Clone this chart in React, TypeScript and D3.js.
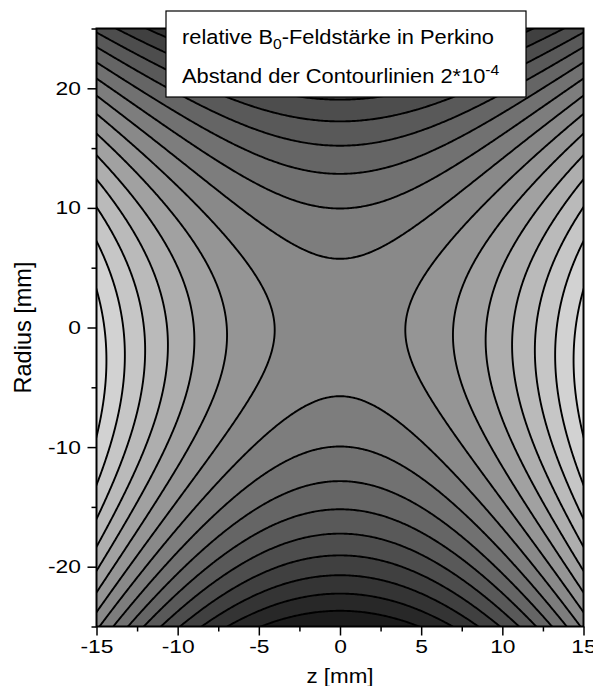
import React, { useEffect, useRef } from 'react';
import * as d3 from 'd3';

// Feld-Entwicklung (Einheiten 1e-4, z und r in mm), aus dem Bild abgeschätzt
const fieldTerms = [
  { pz: 2, pr: 0, c: 0.0617 },
  { pz: 0, pr: 2, c: -0.0303 },
  { pz: 2, pr: 1, c: -0.0008 },
];

// Konturlinien im Abstand 2*10^-4
const contourLevels = [-17, -15, -13, -11, -9, -7, -5, -3, -1, 1, 3, 5, 7, 9, 11, 13];

const zDomain = [-15, 15];
const rDomain = [-25, 25];
const zTicks = [-15, -10, -5, 0, 5, 10, 15];
const zMinorTicks = [-12.5, -7.5, -2.5, 2.5, 7.5, 12.5];
const rTicks = [-20, -10, 0, 10, 20];
const rMinorTicks = [-25, -15, -5, 5, 15, 25];

const FONT = '"Liberation Sans", Arial, Helvetica, sans-serif';

const ContourChart: React.FC = () => {
  const svgRef = useRef<SVGSVGElement>(null);
  const width = 601;
  const height = 694;
  const left = 96.5;
  const right = 583.5;
  const top = 28.5;
  const bottom = 626.5;

  useEffect(() => {
    if (!svgRef.current) return;
    const svg = d3.select(svgRef.current);
    svg.selectAll('*').remove();

    const x = d3.scaleLinear().domain(zDomain).range([left, right]);
    const y = d3.scaleLinear().domain(rDomain).range([bottom, top]);

    // Raster etwas größer als der Plotbereich
    const step = 0.1;
    const z0 = zDomain[0] - 1;
    const r0 = rDomain[1] + 1;
    const nx = Math.round((zDomain[1] - zDomain[0] + 2) / step) + 1;
    const ny = Math.round((rDomain[1] - rDomain[0] + 2) / step) + 1;
    const field = (z: number, r: number) =>
      d3.sum(fieldTerms, t => t.c * Math.pow(z, t.pz) * Math.pow(r, t.pr));
    const values = new Array(nx * ny);
    for (let j = 0; j < ny; j++) {
      const r = r0 - j * step;
      for (let i = 0; i < nx; i++) {
        values[j * nx + i] = field(z0 + i * step, r);
      }
    }

    const proj = d3.geoTransform({
      point(gx: number, gy: number) {
        const z = z0 + (gx - 0.5) * step;
        const r = r0 - (gy - 0.5) * step;
        this.stream.point(x(z), y(r));
      },
    });
    const path = d3.geoPath(proj);
    const gen = d3.contours().size([nx, ny]);

    const gray = d3.scaleLinear()
      .domain([0, contourLevels.length])
      .range([28, 222]);
    const bandColor = (k: number) => {
      const v = Math.round(gray(k));
      return d3.rgb(v, v, v).toString();
    };

    svg.append('defs').append('clipPath').attr('id', 'plot-clip')
      .append('rect')
      .attr('x', left).attr('y', top)
      .attr('width', right - left).attr('height', bottom - top);

    const plot = svg.append('g').attr('clip-path', 'url(#plot-clip)');

    plot.append('rect')
      .attr('x', left).attr('y', top)
      .attr('width', right - left).attr('height', bottom - top)
      .attr('fill', bandColor(0));

    const shapes = contourLevels.map(level => gen.contour(values, level));

    plot.selectAll('path.band')
      .data(shapes)
      .enter()
      .append('path')
      .attr('class', 'band')
      .attr('d', d => path(d as any))
      .attr('fill', (_d, k) => bandColor(k + 1))
      .attr('stroke', 'none');

    plot.selectAll('path.line')
      .data(shapes)
      .enter()
      .append('path')
      .attr('class', 'line')
      .attr('d', d => path(d as any))
      .attr('fill', 'none')
      .attr('stroke', '#000')
      .attr('stroke-width', 1.9);

    // Rahmen
    svg.append('rect')
      .attr('x', left).attr('y', top)
      .attr('width', right - left).attr('height', bottom - top)
      .attr('fill', 'none')
      .attr('stroke', '#000')
      .attr('stroke-width', 2);

    // x-Achse
    const xAxis = svg.append('g').attr('transform', `translate(0,${bottom})`);
    xAxis.call(d3.axisBottom(x).tickValues(zTicks).tickSize(9).tickSizeOuter(0).tickPadding(4)
      .tickFormat(d => String(d)));
    xAxis.append('g').call(d3.axisBottom(x).tickValues(zMinorTicks).tickSize(5).tickSizeOuter(0)
      .tickFormat(() => ''));
    xAxis.selectAll('.domain').remove();
    xAxis.selectAll('line').attr('stroke', '#000').attr('stroke-width', 1.5);
    xAxis.selectAll('text')
      .attr('font-family', FONT)
      .attr('font-size', 19)
      .attr('fill', '#000')
      .attr('transform', 'scale(1.2,1)');

    // y-Achse
    const yAxis = svg.append('g').attr('transform', `translate(${left},0)`);
    yAxis.call(d3.axisLeft(y).tickValues(rTicks).tickSize(9).tickSizeOuter(0).tickPadding(4)
      .tickFormat(d => String(d)));
    yAxis.append('g').call(d3.axisLeft(y).tickValues(rMinorTicks).tickSize(5).tickSizeOuter(0)
      .tickFormat(() => ''));
    yAxis.selectAll('.domain').remove();
    yAxis.selectAll('line').attr('stroke', '#000').attr('stroke-width', 1.5);
    yAxis.selectAll('text')
      .attr('font-family', FONT)
      .attr('font-size', 19)
      .attr('fill', '#000')
      .attr('transform', 'scale(1.2,1)');

    // Achsentitel
    svg.append('text')
      .attr('transform', `translate(${(left + right) / 2},683) scale(1.12,1)`)
      .attr('text-anchor', 'middle')
      .attr('font-family', FONT)
      .attr('font-size', 20)
      .text('z [mm]');

    svg.append('text')
      .attr('transform', `translate(31,${(top + bottom) / 2}) rotate(-90) scale(1,1.05)`)
      .attr('text-anchor', 'middle')
      .attr('font-family', FONT)
      .attr('font-size', 23.5)
      .text('Radius [mm]');

    // Legende
    svg.append('rect')
      .attr('x', 166).attr('y', 11)
      .attr('width', 360).attr('height', 86)
      .attr('fill', '#fff')
      .attr('stroke', '#000')
      .attr('stroke-width', 1.2);

    const t1 = svg.append('text')
      .attr('transform', 'translate(182,44) scale(1.12,1)')
      .attr('font-family', FONT)
      .attr('font-size', 19.5);
    t1.append('tspan').text('relative B');
    t1.append('tspan').attr('font-size', 14).attr('dy', 5).text('0');
    t1.append('tspan').attr('dy', -5).text('-Feldstärke in Perkino');

    const t2 = svg.append('text')
      .attr('transform', 'translate(182,83) scale(1.12,1)')
      .attr('font-family', FONT)
      .attr('font-size', 19.5);
    t2.append('tspan').text('Abstand der Contourlinien 2*10');
    t2.append('tspan').attr('font-size', 14).attr('dy', -8).text('-4');
  }, []);

  return <svg ref={svgRef} width={width} height={height} style={{ display: 'block' }} />;
};

export default function App() {
  return (
    <div style={{ margin: -8 }}>
      <ContourChart />
    </div>
  );
}
